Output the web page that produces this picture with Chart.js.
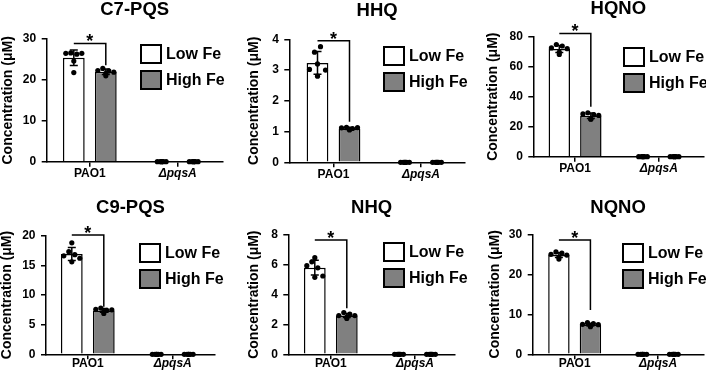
<!DOCTYPE html>
<html>
<head>
<meta charset="utf-8">
<script src="https://cdn.jsdelivr.net/npm/chart.js@4.4.1/dist/chart.umd.min.js"></script>
<style>
  html, body { margin: 0; padding: 0; background: #fff; }
  body { width: 706px; height: 375px; position: relative; overflow: hidden; font-family: 'Liberation Sans', Arial, sans-serif; }
  canvas { position: absolute; }
  .lg { position: absolute; font-weight: bold; font-size: 16px; color: #000; }
  .lg-item { display: flex; align-items: center; height: 20px; margin-bottom: 6px; white-space: nowrap; }
  .lg-box { width: 22px; height: 20px; border: 2px solid #000; box-sizing: border-box; margin-right: 4px; }
</style>
</head>
<body>
<script>
const groups = ['PAO1', 'ΔpqsA'];
const seriesNames = ['Low Fe', 'High Fe'];
const panelNames = ['C7-PQS', 'HHQ', 'HQNO', 'C9-PQS', 'NHQ', 'NQNO'];
const yMax  = [30, 4, 80, 20, 8, 30];
const yStep = [10, 1, 20, 5, 2, 10];

// bar heights (mean), per panel: [PAO1, ΔpqsA]
const lowMean  = [[25.4, 0], [3.23, 0], [71.8, 0], [16.9, 0], [5.81, 0], [24.8, 0]];
const highMean = [[22.0, 0], [1.10, 0], [27.3, 0], [7.40, 0], [2.60, 0], [7.43, 0]];
// error bars (SD)
const lowSD  = [[1.9, 0], [0.37, 0], [2.4, 0], [1.1, 0], [0.5, 0], [0.6, 0]];
const highSD = [[0.65, 0], [0.035, 0], [1.8, 0], [0.32, 0], [0.14, 0], [0.35, 0]];

// replicate points, per panel: [PAO1 x6, ΔpqsA x6]
const lowPts = [
  [[26.5, 26.6, 26.3, 26.5, 24.6, 21.8], [0, 0, 0, 0, 0, 0]],
  [[3.02, 3.58, 3.76, 3.0, 2.8, 3.2], [0, 0, 0, 0, 0, 0]],
  [[72.5, 74.8, 73.8, 72.0, 69.8, 68.2], [0, 0, 0, 0, 0, 0]],
  [[16.6, 17.3, 16.8, 16.2, 18.8, 15.6], [0, 0, 0, 0, 0, 0]],
  [[5.94, 6.2, 5.8, 5.25, 6.48, 5.16], [0, 0, 0, 0, 0, 0]],
  [[25.0, 25.6, 25.3, 24.8, 24.3, 23.8], [0, 0, 0, 0, 0, 0]]
];
const highPts = [
  [[22.3, 22.8, 22.2, 21.9, 21.0, 21.6], [0, 0, 0, 0, 0, 0]],
  [[1.12, 1.14, 1.10, 1.13, 1.05, 1.08], [0, 0, 0, 0, 0, 0]],
  [[28.5, 29.3, 28.0, 27.5, 25.2, 25.0], [0, 0, 0, 0, 0, 0]],
  [[7.6, 7.8, 7.4, 7.5, 7.2, 6.9], [0, 0, 0, 0, 0, 0]],
  [[2.6, 2.8, 2.7, 2.6, 2.5, 2.4], [0, 0, 0, 0, 0, 0]],
  [[7.5, 7.9, 7.7, 7.4, 7.2, 6.9], [0, 0, 0, 0, 0, 0]]
];
// significance bracket: [horizontal line, end of drop]
const bracket = [[28.9, 23.6], [3.95, 1.32], [82.2, 33.3], [20.1, 8.0], [7.66, 3.08], [28.6, 11.1]];

// layout (page pixels): canvas box, axis edges, category centres, title/legend spots
const layouts = [
  { left: 0,   top: 0,   w: 235, h: 187, L: 46.7,  R: 222.7, T: 39,    B: 161.7, c0: 89.8,  c1: 177.7, titleY: 9.5,   yTitleX: 8,     xPad: 0,  lgX: 140, lgY: 44 },
  { left: 235, top: 0,   w: 235, h: 187, L: 289.3, R: 465,   T: 39.3,  B: 162.3, c0: 333.5, c1: 421,   titleY: 10.8,  yTitleX: 254,   xPad: 0,  lgX: 383, lgY: 46 },
  { left: 470, top: 0,   w: 236, h: 187, L: 533.3, R: 706,   T: 36.7,  B: 156.7, c0: 575.7, c1: 660.7, titleY: 9.2,   yTitleX: 493.5, xPad: 0,  lgX: 623, lgY: 47 },
  { left: 0,   top: 190, w: 235, h: 185, L: 46,    R: 215,   T: 235.7, B: 354.3, c0: 87.8,  c1: 172.7, titleY: 208.3, yTitleX: 7.5,   xPad: -3, lgX: 139, lgY: 242.5 },
  { left: 235, top: 190, w: 235, h: 185, L: 288.3, R: 455,   T: 235,   B: 354.3, c0: 330.8, c1: 415,   titleY: 208.3, yTitleX: 254,   xPad: -3, lgX: 383, lgY: 242 },
  { left: 470, top: 190, w: 236, h: 185, L: 532.7, R: 706,   T: 234.3, B: 354.3, c0: 575.3, c1: 660,   titleY: 208.3, yTitleX: 495,   xPad: -3, lgX: 622, lgY: 243 }
];
const JITTER_PX = [-8, -3, 3, 8, 0, 0];
const JITTER_SCALE = [1, 0.55];   // points at zero sit in a tight row
const HALF_SLOT = 16;
const fills = ['#ffffff', '#808080'];

Chart.defaults.font.family = "'Liberation Sans', Arial, sans-serif";
Chart.defaults.color = '#000';

function annotate(p) {
  return {
    id: 'annotate' + p,
    afterDatasetDraw(chart, args) {
      const ds = chart.data.datasets[args.index];
      if (!ds.sd) return;
      const ctx = chart.ctx, ys = chart.scales.y;
      ctx.save();
      ctx.strokeStyle = '#000'; ctx.lineWidth = 1.5;
      args.meta.data.forEach((bar, i) => {
        const m = ds.data[i].y, s = ds.sd[i];
        if (!s) return;
        const y1 = ys.getPixelForValue(m + s), y2 = ys.getPixelForValue(m - s);
        ctx.beginPath();
        ctx.moveTo(bar.x, y1); ctx.lineTo(bar.x, y2);
        ctx.moveTo(bar.x - 4, y1); ctx.lineTo(bar.x + 4, y1);
        ctx.moveTo(bar.x - 4, y2); ctx.lineTo(bar.x + 4, y2);
        ctx.stroke();
      });
      ctx.restore();
    },
    afterDraw(chart) {
      const [top, drop] = bracket[p];
      const a = chart.getDatasetMeta(0).data[0], b = chart.getDatasetMeta(1).data[0];
      const ys = chart.scales.y, y1 = ys.getPixelForValue(top), y2 = ys.getPixelForValue(drop);
      const ctx = chart.ctx;
      ctx.save();
      ctx.strokeStyle = '#000'; ctx.lineWidth = 1.5;
      ctx.beginPath();
      ctx.moveTo(a.x, y1); ctx.lineTo(b.x, y1); ctx.lineTo(b.x, y2);
      ctx.stroke();
      ctx.fillStyle = '#000';
      ctx.font = "bold 18px 'Liberation Sans', Arial, sans-serif";
      ctx.textAlign = 'center'; ctx.textBaseline = 'alphabetic';
      ctx.fillText('*', (a.x + b.x) / 2, y1 + 4);
      ctx.restore();
    }
  };
}

layouts.forEach((lay, p) => {
  const cv = document.createElement('canvas');
  cv.width = lay.w; cv.height = lay.h;
  cv.style.left = lay.left + 'px'; cv.style.top = lay.top + 'px';
  document.body.appendChild(cv);

  const unit = lay.c1 - lay.c0;
  const xmin = (lay.L - lay.c0) / unit, xmax = (lay.R - lay.c0) / unit;
  const tSize = 18.5, lh = tSize * 1.2;
  const tTop = lay.titleY - lay.top - lh / 2;
  const tBot = lay.T - lay.top - tTop - lh;
  const pts = (arr, side) => arr.flatMap((vals, g) =>
    vals.map((v, k) => ({ x: g + (side * HALF_SLOT + JITTER_PX[k] * JITTER_SCALE[g]) / unit, y: v })));
  const barDs = (i, means, sd) => ({
    label: seriesNames[i],
    data: groups.map((_, g) => ({ x: g, y: means[g] })),
    sd: sd,
    backgroundColor: fills[i], borderColor: '#000', borderWidth: 1.5,
    categoryPercentage: 4 * HALF_SLOT / unit, barPercentage: 0.68,
    order: 1
  });
  const dotDs = (data) => ({
    type: 'scatter', data: data, clip: false,
    pointRadius: 2.6, pointHoverRadius: 2.6,
    backgroundColor: '#000', borderWidth: 0, order: 0
  });
  const axisLine = {
    grid: { drawOnChartArea: false, offset: false, color: '#000', lineWidth: 1.5, tickLength: 5 },
    border: { color: '#000', width: 1.5 }
  };

  new Chart(cv, {
    type: 'bar',
    data: {
      datasets: [
        barDs(0, lowMean[p], lowSD[p]),
        barDs(1, highMean[p], highSD[p]),
        dotDs(pts(lowPts[p], -1)),
        dotDs(pts(highPts[p], 1))
      ]
    },
    options: {
      responsive: false, animation: false,
      layout: { padding: { left: 0, top: 0, bottom: 0, right: lay.left + lay.w - lay.R } },
      plugins: {
        legend: { display: false },
        tooltip: { enabled: false },
        title: {
          display: true, text: panelNames[p], fullSize: false, color: '#000',
          font: { size: tSize, weight: 'bold' },
          padding: { top: tTop, bottom: tBot }
        }
      },
      scales: {
        x: {
          type: 'linear', min: xmin, max: xmax, offset: false,
          afterBuildTicks: s => { s.ticks = groups.map((_, g) => ({ value: g })); },
          afterFit: s => { s.height = lay.top + lay.h - lay.B; },
          ticks: {
            color: '#000', padding: lay.xPad, autoSkip: false, maxRotation: 0,
            callback: v => groups[v],
            font: c => ({ size: 12, weight: 'bold', style: c.index === 1 ? 'italic' : 'normal' })
          },
          ...axisLine
        },
        y: {
          min: 0, max: yMax[p],
          afterFit: s => { s.width = lay.L - lay.left; },
          ticks: { stepSize: yStep[p], color: '#000', padding: 5.5, font: { size: 12, weight: 'bold' } },
          title: {
            display: true, text: 'Concentration (μM)', color: '#000',
            font: { size: 14, weight: 'bold' },
            padding: { top: lay.yTitleX - lay.left - 8.4, bottom: 0 }
          },
          ...axisLine
        }
      }
    },
    plugins: [annotate(p)]
  });

  const lg = document.createElement('div');
  lg.className = 'lg';
  lg.style.left = lay.lgX + 'px'; lg.style.top = lay.lgY + 'px';
  seriesNames.forEach((name, i) => {
    const item = document.createElement('div');
    item.className = 'lg-item';
    const box = document.createElement('span');
    box.className = 'lg-box';
    box.style.background = fills[i];
    const txt = document.createElement('span');
    txt.textContent = name;
    item.appendChild(box); item.appendChild(txt);
    lg.appendChild(item);
  });
  document.body.appendChild(lg);
});
</script>
</body>
</html>
